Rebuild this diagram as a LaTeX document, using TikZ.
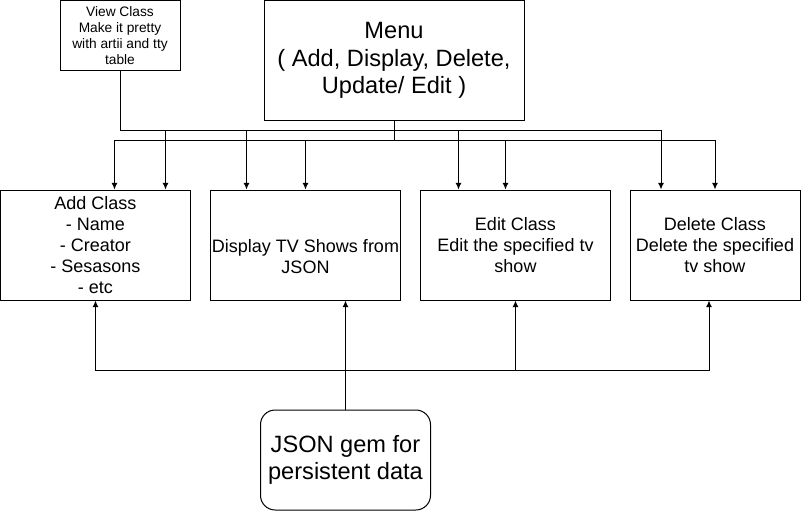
\documentclass[tikz,border=0pt]{standalone}
\usepackage{fontspec}
\setmainfont{Liberation Sans}
\usepackage{tikz}
\usetikzlibrary{calc}
\usetikzlibrary{arrows.meta}

\begin{document}
\begin{tikzpicture}[x=0.75pt,y=-0.75pt,line width=0.75pt,
  box/.style={draw,align=center,inner sep=0pt,minimum width=142.5pt,minimum height=82.5pt,font=\fontsize{13.5}{15.75}\selectfont},
  bigtext/.style={font=\fontsize{17.7}{20.5}\selectfont},
  arr/.style={-{Latex[length=5pt,width=4.5pt]}}]
\useasboundingbox (0,0) rectangle (801,511);
\node[box,minimum width=90pt,minimum height=52.5pt,font=\fontsize{10.3}{12}\selectfont] (view) at (120,35.5) {View Class\\Make it pretty\\with artii and tty\\table};
\node[box,bigtext,minimum width=195pt,minimum height=90pt] (menu) at (394,60.5) {Menu\\( Add, Display, Delete,\\Update/ Edit )};
\node[box] (add) at (95.5,245) {Add Class\\- Name\\- Creator\\- Sesasons\\- etc};
\node[box] (disp) at (305.5,245) {\strut\\Display TV Shows from\\JSON};
\node[box] (edit) at (515.5,245) {Edit Class\\Edit the specified tv\\show};
\node[box,minimum width=127.5pt] (del) at (715,245) {Delete Class\\Delete the specified\\tv show};
\node[box,bigtext,minimum width=127.5pt,minimum height=75pt,rounded corners=11pt] (json) at (345.5,460) {JSON gem for\\persistent data};
\coordinate (up) at (0,130);
\coordinate (lo) at (0,140);
\coordinate (base) at (0,370);
\foreach \n/\d in {add/70,disp/-59,edit/-57,del/-54}{
\draw[arr] (view.south) |- ($(\n.north |- up)+(\d,0)$) -- ($(\n.north)+(\d,0)$);}
\foreach \n/\d in {add/19,disp/0,edit/-10,del/0}{
\draw[arr] (menu.south) |- ($(\n.north |- lo)+(\d,0)$) -- ($(\n.north)+(\d,0)$);}
\draw[arr] (json.north) -- (disp.south -| json.north);
\foreach \n/\d in {add/0,edit/0,del/-6}{
\draw[arr] (json.north |- base) -| ($(\n.south)+(\d,0)$);}
\end{tikzpicture}
\end{document}
